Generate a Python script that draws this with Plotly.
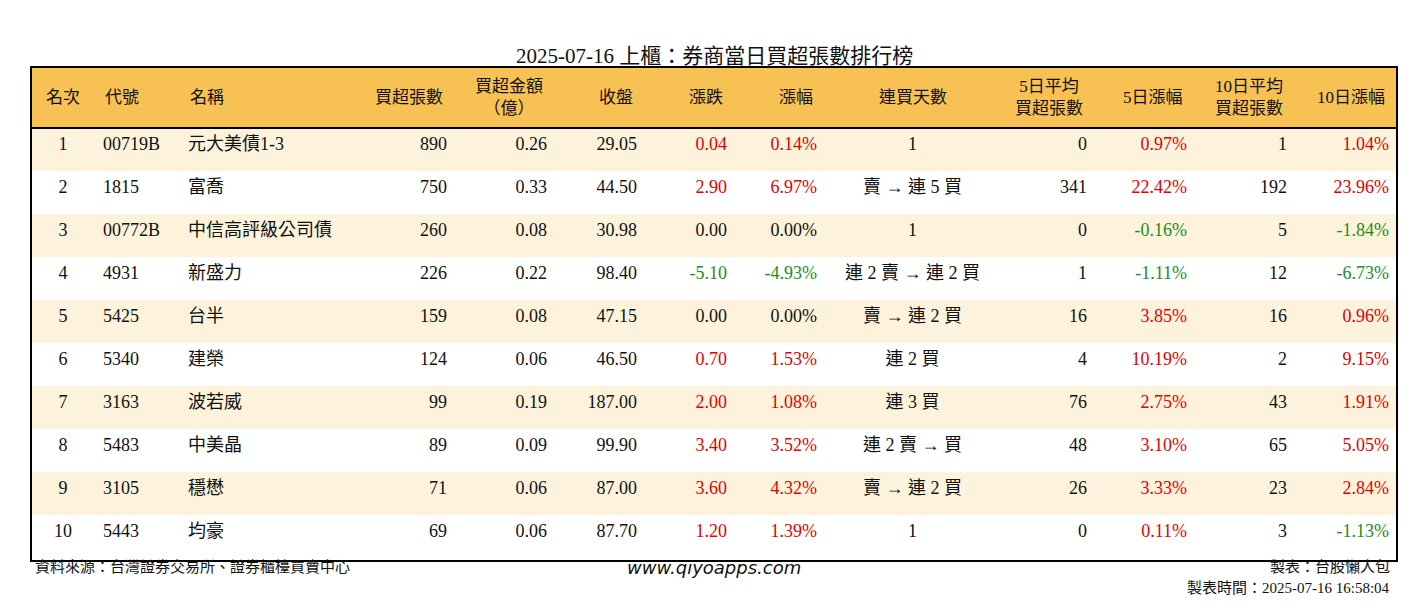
import plotly.graph_objects as go

W, H = 1428, 612
OFF = 8  # page body margin

headers = ["名次", "代號", "名稱", "買超張數", "買超金額<br>（億）", "收盤", "漲跌", "漲幅",
           "連買天數", "5日平均<br>買超張數", "5日漲幅", "10日平均<br>買超張數", "10日漲幅"]
rank = ["1", "2", "3", "4", "5", "6", "7", "8", "9", "10"]
code = ["00719B", "1815", "00772B", "4931", "5425", "5340", "3163", "5483", "3105", "5443"]
name = ["元大美債1-3", "富喬", "中信高評級公司債", "新盛力", "台半", "建榮", "波若威", "中美晶", "穩懋", "均豪"]
net_lots = [890, 750, 260, 226, 159, 124, 99, 89, 71, 69]
amount = [0.26, 0.33, 0.08, 0.22, 0.08, 0.06, 0.19, 0.09, 0.06, 0.06]
close = [29.05, 44.50, 30.98, 98.40, 47.15, 46.50, 187.00, 99.90, 87.00, 87.70]
change = [0.04, 2.90, 0.00, -5.10, 0.00, 0.70, 2.00, 3.40, 3.60, 1.20]
change_pct = [0.14, 6.97, 0.00, -4.93, 0.00, 1.53, 1.08, 3.52, 4.32, 1.39]
streak = ["1", "賣 → 連 5 買", "1", "連 2 賣 → 連 2 買", "賣 → 連 2 買", "連 2 買", "連 3 買",
          "連 2 賣 → 買", "賣 → 連 2 買", "1"]
avg5 = [0, 341, 0, 1, 16, 4, 76, 48, 26, 0]
pct5 = [0.97, 22.42, -0.16, -1.11, 3.85, 10.19, 2.75, 3.10, 3.33, 0.11]
avg10 = [1, 192, 5, 12, 16, 2, 43, 65, 23, 3]
pct10 = [1.04, 23.96, -1.84, -6.73, 0.96, 9.15, 1.91, 5.05, 2.84, -1.13]

RED, GREEN, BLACK = "#e60000", "#1a8f1a", "#111111"


def sign_color(vals):
    return [RED if v > 0 else GREEN if v < 0 else BLACK for v in vals]


def px(x):
    return (x - OFF) / W


def py(y):
    return 1 - (y - OFF) / H


cols = [
    rank, code, name,
    [str(v) for v in net_lots],
    [f"{v:.2f}" for v in amount],
    [f"{v:.2f}" for v in close],
    [f"{v:.2f}" for v in change],
    [f"{v:.2f}%" for v in change_pct],
    streak,
    [str(v) for v in avg5],
    [f"{v:.2f}%" for v in pct5],
    [str(v) for v in avg10],
    [f"{v:.2f}%" for v in pct10],
]
n = len(rank)
blk = [BLACK] * n
font_colors = [blk, blk, blk, blk, blk, blk, sign_color(change), sign_color(change_pct),
               blk, blk, sign_color(pct5), blk, sign_color(pct10)]
row_fill = ["#fdf3dc" if i % 2 == 0 else "#ffffff" for i in range(n)]
aligns = ["center", "left", "left", "right", "right", "right", "right", "right",
          "center", "right", "right", "right", "right"]
widths = [64, 85, 175, 100, 100, 90, 90, 90, 175, 95, 100, 100, 102]

FONT = "Liberation Serif, Noto Sans CJK TC, serif"
x0, x1, y0, y1 = 31, 1397, 67, 561
HEAD_H = 61

fig = go.Figure(go.Table(
    domain=dict(x=[px(x0), px(x1)], y=[py(y1), py(y0)]),
    columnwidth=widths,
    header=dict(values=[""] * len(headers), height=HEAD_H,
                fill_color="#f7c153", line=dict(color="#f7c153", width=0)),
    cells=dict(values=cols, align=aligns, height=43,
               fill_color=[row_fill] * len(cols), line=dict(color="rgba(0,0,0,0)", width=0),
               font=dict(family=FONT, size=18, color=font_colors)),
))

# header labels, vertically centred in the header band
left = x0
for h, w, a in zip(headers, widths, aligns):
    if a == "center":
        xx, anc = left + w / 2, "center"
    elif a == "left":
        xx, anc = left + 8, "left"
    else:
        xx, anc = left + w - 10, "right"
    fig.add_annotation(text=h, x=px(xx), y=py(y0 + HEAD_H / 2), xref="paper", yref="paper",
                       xanchor=anc, yanchor="middle", align="center", showarrow=False,
                       font=dict(family=FONT, size=17, color=BLACK))
    left += w

fig.add_shape(type="rect", xref="paper", yref="paper", x0=px(x0), x1=px(x1),
              y0=py(y1), y1=py(y0), line=dict(color="black", width=2))
fig.add_shape(type="line", xref="paper", yref="paper", x0=px(x0), x1=px(x1),
              y0=py(y0 + HEAD_H), y1=py(y0 + HEAD_H), line=dict(color="black", width=2))

fig.add_annotation(text="2025-07-16 上櫃：券商當日買超張數排行榜", x=px(714), y=py(42),
                   xref="paper", yref="paper", showarrow=False,
                   font=dict(family=FONT, size=21, color=BLACK))
fig.add_annotation(text="資料來源：台灣證券交易所、證券櫃檯買賣中心", x=px(33), y=py(577),
                   xref="paper", yref="paper", xanchor="left", showarrow=False,
                   font=dict(family=FONT, size=15, color=BLACK))
fig.add_annotation(text="<i>www.qiyoapps.com</i>", x=px(714), y=py(580),
                   xref="paper", yref="paper", showarrow=False,
                   font=dict(family="DejaVu Sans, sans-serif", size=18, color=BLACK))
fig.add_annotation(text="製表：台股懶人包", x=px(1392), y=py(577),
                   xref="paper", yref="paper", xanchor="right", showarrow=False,
                   font=dict(family=FONT, size=15, color=BLACK))
fig.add_annotation(text="製表時間：2025-07-16 16:58:04", x=px(1392), y=py(598),
                   xref="paper", yref="paper", xanchor="right", showarrow=False,
                   font=dict(family=FONT, size=15, color=BLACK))

fig.update_layout(width=W, height=H, margin=dict(l=0, r=0, t=0, b=0),
                  paper_bgcolor="white", plot_bgcolor="white")
fig.write_html("out.html")
